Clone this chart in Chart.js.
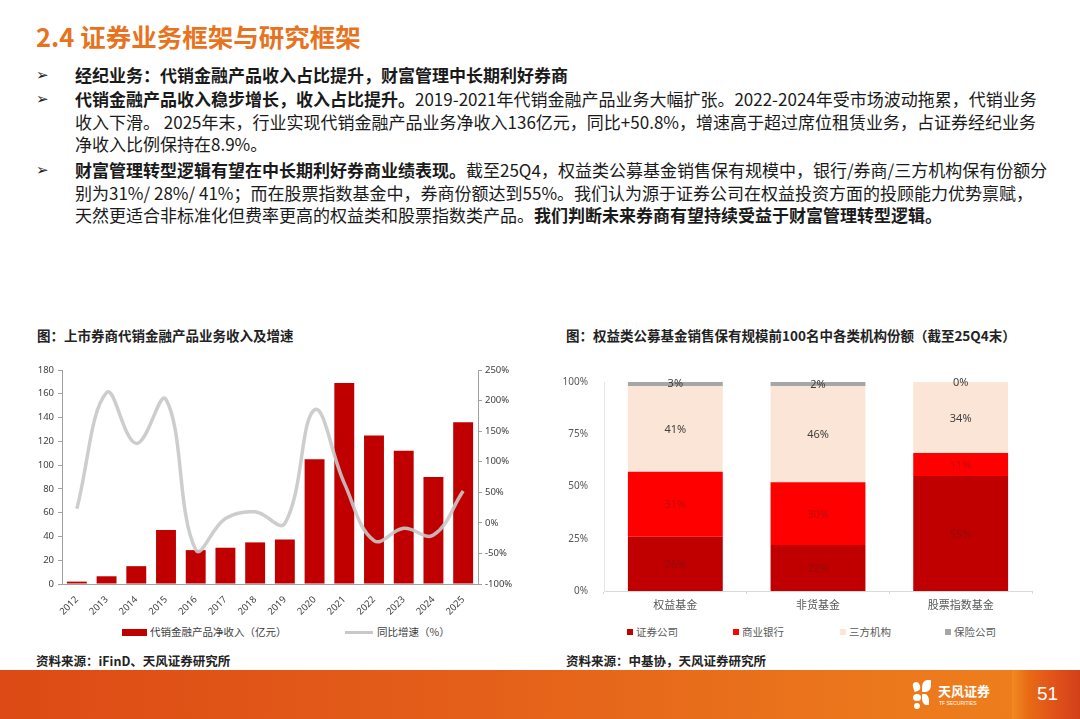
<!DOCTYPE html>
<html>
<head>
<meta charset="utf-8">
<script src="https://cdn.jsdelivr.net/npm/chart.js@4.4.1/dist/chart.umd.min.js"></script>
<style>
  body { margin: 0; width: 1080px; height: 719px; position: relative; overflow: hidden; background: #fff;
         font-family: "Noto Sans CJK SC", "Noto Sans", sans-serif; color: #1a1a1a; }
  .abs { position: absolute; white-space: nowrap; }
  #title { left: 36px; top: 19px; font-size: 25.5px; font-weight: bold; color: #E8731E; line-height: 34px; }
  .ln { left: 75px; font-size: 17px; line-height: 22px; }
  .ar { left: 36px; font-family: "DejaVu Sans"; font-size: 15px; line-height: 22px; font-weight: bold; }
  b { font-weight: bold; }
  .ctitle { font-size: 13.5px; font-weight: bold; line-height: 18px; color: #222; }
  .src { font-size: 12.5px; font-weight: bold; line-height: 16px; color: #222; }
  .lg { font-size: 10.5px; color: #404040; line-height: 14px; }
  .sw { position: absolute; }
  #bar { left: 0; top: 670px; width: 1080px; height: 49px;
         background: linear-gradient(90deg, #DD4A15 0%, #E4601A 45%, #EC7A1C 85%, #EE7F1E 100%); }
  #blk { left: 1012px; top: 670px; width: 68px; height: 49px;
         background: linear-gradient(90deg, #F08A22 0%, #E86A14 25%, #E1541A 60%, #D2401A 100%); }
</style>
</head>
<body>
<div id="title" class="abs">2.4 证券业务框架与研究框架</div>

<div class="abs ar" style="top:64px">➢</div>
<div class="abs ln" style="top:64px"><b>经纪业务：代销金融产品收入占比提升，财富管理中长期利好券商</b></div>
<div class="abs ar" style="top:88px">➢</div>
<div class="abs ln" style="top:88px"><b>代销金融产品收入稳步增长，收入占比提升。</b>2019-2021年代销金融产品业务大幅扩张。2022-2024年受市场波动拖累，代销业务</div>
<div class="abs ln" style="top:111px">收入下滑。 2025年末，行业实现代销金融产品业务净收入136亿元，同比+50.8%，增速高于超过席位租赁业务，占证券经纪业务</div>
<div class="abs ln" style="top:133px">净收入比例保持在8.9%。</div>
<div class="abs ar" style="top:159px">➢</div>
<div class="abs ln" style="top:159px"><b>财富管理转型逻辑有望在中长期利好券商业绩表现。</b>截至25Q4，权益类公募基金销售保有规模中，银行/券商/三方机构保有份额分</div>
<div class="abs ln" style="top:182px">别为31%/ 28%/ 41%；而在股票指数基金中，券商份额达到55%。我们认为源于证券公司在权益投资方面的投顾能力优势禀赋，</div>
<div class="abs ln" style="top:204px">天然更适合非标准化但费率更高的权益类和股票指数类产品。<b>我们判断未来券商有望持续受益于财富管理转型逻辑。</b></div>

<div class="abs ctitle" style="left:37px;top:326px">图：上市券商代销金融产品业务收入及增速</div>
<div class="abs ctitle" style="left:566px;top:326px">图：权益类公募基金销售保有规模前100名中各类机构份额（截至25Q4末）</div>

<div class="abs" style="left:20px;top:360px;width:500px;height:260px"><canvas id="c1"></canvas></div>
<div class="abs" style="left:560px;top:368px;width:485px;height:252px"><canvas id="c2"></canvas></div>

<!-- left legend -->
<div class="sw" style="left:122px;top:629px;width:25px;height:7px;background:#C00000"></div>
<div class="abs lg" style="left:150px;top:625px">代销金融产品净收入（亿元）</div>
<div class="sw" style="left:345px;top:631px;width:28px;height:3px;background:#C8C8C8"></div>
<div class="abs lg" style="left:377px;top:625px">同比增速（%）</div>

<!-- right legend -->
<div class="sw" style="left:627px;top:629px;width:6px;height:6px;background:#C00000"></div>
<div class="abs lg" style="left:636px;top:625px;color:#595959">证券公司</div>
<div class="sw" style="left:733px;top:629px;width:6px;height:6px;background:#FF0000"></div>
<div class="abs lg" style="left:742px;top:625px;color:#595959">商业银行</div>
<div class="sw" style="left:840px;top:629px;width:6px;height:6px;background:#FBE5D6"></div>
<div class="abs lg" style="left:849px;top:625px;color:#595959">三方机构</div>
<div class="sw" style="left:945px;top:629px;width:6px;height:6px;background:#A6A6A6"></div>
<div class="abs lg" style="left:954px;top:625px;color:#595959">保险公司</div>

<div class="abs src" style="left:36px;top:653px">资料来源：iFinD、天风证券研究所</div>
<div class="abs src" style="left:566px;top:653px">资料来源：中基协，天风证券研究所</div>

<div id="bar" class="abs"></div>
<div id="blk" class="abs"></div>
<!-- logo -->
<div class="sw" style="left:913px;top:682px;width:7px;height:9px;background:#fff;border-radius:50% 50% 50% 0;transform:rotate(-20deg)"></div>
<div class="sw" style="left:922px;top:680px;width:9px;height:12px;background:#fff;border-radius:60% 10% 60% 10%"></div>
<div class="sw" style="left:913px;top:694px;width:8px;height:7px;background:#fff;border-radius:50%"></div>
<div class="sw" style="left:922px;top:694px;width:7px;height:11px;background:#fff;border-radius:10% 60% 10% 60%"></div>
<div class="sw" style="left:914px;top:703px;width:6px;height:6px;background:#fff;border-radius:50%"></div>
<div class="abs" style="left:938px;top:683px;font-size:13px;line-height:16px;color:#fff;font-weight:bold">天风证券</div>
<div class="abs" style="left:939px;top:700px;font-size:5px;line-height:6px;color:#fff;font-family:'Liberation Sans'">TF SECURITIES</div>
<div class="abs" style="left:1037px;top:682px;font-size:19px;line-height:24px;color:#fff;font-family:'Liberation Sans Narrow','Liberation Sans'">51</div>

<script>
// left chart: 代销金融产品净收入 (亿元) and 同比增速 (%)
const years = ['2012', '2013', '2014', '2015', '2016', '2017', '2018', '2019', '2020', '2021', '2022', '2023', '2024', '2025'];
const revenue = [2, 6.5, 15, 45.5, 28.5, 30.5, 35, 37.5, 105, 169, 125, 112, 90, 136];
const growth = [23, 213, 130, 202, -44, 7, 18, -1, 185, 65, -29, -9, -20, 52];

// right chart: shares by institution type (%)
const funds = ['权益基金', '非货基金', '股票指数基金'];
const brokerShare = [26, 22, 55];
const bankShare = [31, 30, 11];
const thirdShare = [41, 46, 34];
const insurShare = [3, 2, 0];

const tickFont = { family: 'Noto Sans', size: 9.5 };

new Chart(document.getElementById('c1'), {
    data: {
        labels: years,
        datasets: [{
            type: 'line',
            label: '同比增速（%）',
            data: growth,
            yAxisID: 'y1',
            borderColor: 'rgba(200, 200, 200, 0.9)',
            borderWidth: 3.5,
            pointRadius: 0,
            tension: 0.4,
            order: 0
        }, {
            type: 'bar',
            label: '代销金融产品净收入（亿元）',
            data: revenue,
            yAxisID: 'y',
            backgroundColor: '#C00000',
            barPercentage: 0.67,
            categoryPercentage: 1,
            order: 1
        }]
    },
    options: {
        responsive: true,
        maintainAspectRatio: false,
        animation: false,
        layout: { autoPadding: false, padding: { top: 10, left: 0, right: 0, bottom: 0 } },
        plugins: { legend: { display: false }, tooltip: { enabled: false } },
        scales: {
            x: {
                grid: { display: false },
                border: { color: '#A0A0A0' },
                ticks: { minRotation: 45, maxRotation: 45, font: tickFont, color: '#404040', padding: 2 },
                afterFit: s => { s.height = 36; }
            },
            y: {
                position: 'left',
                min: 0, max: 180,
                ticks: { stepSize: 20, font: tickFont, color: '#404040', padding: 4 },
                grid: { drawOnChartArea: false, tickLength: 4, color: '#A0A0A0' },
                border: { color: '#A0A0A0' },
                afterFit: s => { s.width = 42; }
            },
            y1: {
                position: 'right',
                min: -100, max: 250,
                ticks: { stepSize: 50, font: tickFont, color: '#404040', padding: 3, callback: v => v + '%' },
                grid: { drawOnChartArea: false, tickLength: 4, color: '#A0A0A0' },
                border: { color: '#A0A0A0' },
                afterFit: s => { s.width = 42; }
            }
        }
    }
});

// value labels in the middle of each stacked segment
const segLabels = {
    id: 'segLabels',
    afterDatasetsDraw(chart) {
        const ctx = chart.ctx;
        ctx.save();
        ctx.font = '11px "Noto Sans"';
        ctx.textAlign = 'center';
        ctx.textBaseline = 'middle';
        chart.data.datasets.forEach((ds, i) => {
            chart.getDatasetMeta(i).data.forEach((el, j) => {
                ctx.fillStyle = ds.labelColor;
                ctx.fillText(ds.data[j] + '%', el.x, (el.y + el.base) / 2 + 1);
            });
        });
        ctx.restore();
    }
};

new Chart(document.getElementById('c2'), {
    type: 'bar',
    data: {
        labels: funds,
        datasets: [
            { label: '证券公司', data: brokerShare, backgroundColor: '#C00000', labelColor: 'rgba(110, 20, 20, 0.55)' },
            { label: '商业银行', data: bankShare, backgroundColor: '#FF0000', labelColor: 'rgba(140, 20, 20, 0.55)' },
            { label: '三方机构', data: thirdShare, backgroundColor: '#FBE5D6', labelColor: '#404040' },
            { label: '保险公司', data: insurShare, backgroundColor: '#A6A6A6', labelColor: '#404040' }
        ]
    },
    options: {
        responsive: true,
        maintainAspectRatio: false,
        animation: false,
        datasets: { bar: { barPercentage: 0.665, categoryPercentage: 1 } },
        layout: { autoPadding: false, padding: { top: 10, left: 0, right: 13, bottom: 0 } },
        plugins: { legend: { display: false }, tooltip: { enabled: false } },
        scales: {
            x: {
                stacked: true,
                grid: { drawOnChartArea: false, offset: true, tickLength: 3, color: '#D9D9D9' },
                border: { color: '#D9D9D9' },
                ticks: { font: { family: 'Noto Sans CJK SC', size: 11 }, color: '#595959', padding: 4 },
                afterFit: s => { s.height = 29; }
            },
            y: {
                stacked: true,
                min: 0, max: 100,
                ticks: { stepSize: 25, font: { family: 'Noto Sans', size: 10 }, color: '#595959', padding: 8, callback: v => v + '%' },
                grid: { display: false },
                border: { color: '#E6E6E6' },
                afterFit: s => { s.width = 44; }
            }
        }
    },
    plugins: [segLabels]
});
</script>
</body>
</html>
